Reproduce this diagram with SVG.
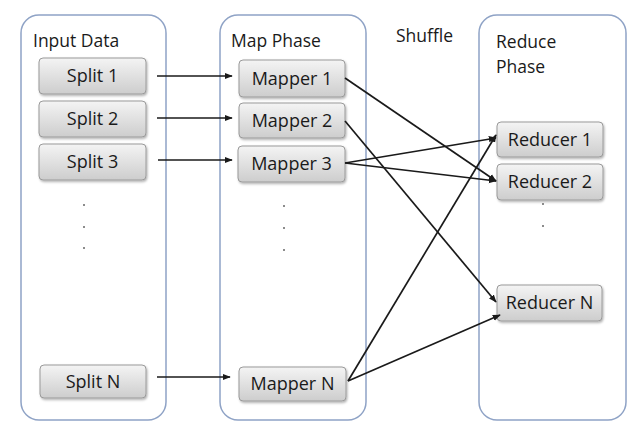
<svg xmlns="http://www.w3.org/2000/svg" width="640" height="431" viewBox="0 0 640 431">
<defs>
<linearGradient id="g" x1="0" y1="0" x2="0" y2="1">
<stop offset="0" stop-color="#f4f4f4"/>
<stop offset="1" stop-color="#cdcdcd"/>
</linearGradient>
<filter id="sh" x="-10%" y="-10%" width="130%" height="140%">
<feDropShadow dx="1" dy="1.5" stdDeviation="1" flood-color="#000" flood-opacity="0.3"/>
</filter>
<marker id="ah" viewBox="0 0 10 10" refX="9" refY="5" markerWidth="8" markerHeight="8" markerUnits="userSpaceOnUse" orient="auto">
<path d="M0,1 L10,5 L0,9 z" fill="#1a1a1a"/>
</marker>
</defs>
<style>
.panel{fill:#fff;stroke:#8fa3c6;stroke-width:1.5}
.box{fill:url(#g);stroke:#9a9a9a;stroke-width:1;filter:url(#sh)}
.t{font-family:"Open Sans","Liberation Sans",sans-serif;font-size:17.5px;fill:#1a1a1a}
.bt{font-family:"Open Sans","Liberation Sans",sans-serif;font-size:18px;fill:#1a1a1a;text-anchor:middle}
.dot{fill:#666}
.c{stroke:#1a1a1a;stroke-width:1.7;fill:none;marker-end:url(#ah)}
</style>
<rect width="640" height="431" fill="#fff"/>
<g id="input-data">
<rect class="panel" x="21" y="15" width="145" height="405" rx="18"/>
<text class="t" x="33" y="47">Input Data</text>
</g>
<g id="map-phase">
<rect class="panel" x="220" y="15" width="146" height="405" rx="18"/>
<text class="t" x="231" y="47">Map Phase</text>
</g>
<g id="shuffle">
<text class="t" x="396" y="42">Shuffle</text>
</g>
<g id="reduce-phase">
<rect class="panel" x="479" y="15" width="147" height="405" rx="18"/>
<text class="t" x="496" y="48">Reduce</text>
<text class="t" x="496" y="73">Phase</text>
</g>
<g id="split1"><rect class="box" x="39" y="58" width="107" height="36" rx="4"/><text class="bt" x="92.5" y="82">Split 1</text></g>
<g id="split2"><rect class="box" x="39" y="101" width="107" height="36" rx="4"/><text class="bt" x="92.5" y="125">Split 2</text></g>
<g id="split3"><rect class="box" x="39" y="144" width="107" height="36" rx="4"/><text class="bt" x="92.5" y="168">Split 3</text></g>
<g id="splitN"><rect class="box" x="40" y="365" width="106" height="33" rx="4"/><text class="bt" x="93" y="388">Split N</text></g>
<g id="mapper1"><rect class="box" x="239" y="60" width="106" height="37" rx="4"/><text class="bt" x="292" y="85">Mapper 1</text></g>
<g id="mapper2"><rect class="box" x="239" y="103" width="106" height="35" rx="4"/><text class="bt" x="292" y="127">Mapper 2</text></g>
<g id="mapper3"><rect class="box" x="238" y="146" width="107" height="36" rx="4"/><text class="bt" x="291.5" y="170">Mapper 3</text></g>
<g id="mapperN"><rect class="box" x="239" y="367" width="107" height="34" rx="4"/><text class="bt" x="292.5" y="390">Mapper N</text></g>
<g id="reducer1"><rect class="box" x="497" y="122" width="106" height="35" rx="4"/><text class="bt" x="550" y="146">Reducer 1</text></g>
<g id="reducer2"><rect class="box" x="497" y="164" width="106" height="36" rx="4"/><text class="bt" x="550" y="188">Reducer 2</text></g>
<g id="reducerN"><rect class="box" x="497" y="285" width="105" height="36" rx="4"/><text class="bt" x="549.5" y="309">Reducer N</text></g>
<g id="dots">
<circle class="dot" cx="84" cy="205" r="1"/>
<circle class="dot" cx="84" cy="227" r="1"/>
<circle class="dot" cx="84" cy="248" r="1"/>
<circle class="dot" cx="284" cy="206" r="1"/>
<circle class="dot" cx="284" cy="228" r="1"/>
<circle class="dot" cx="284" cy="250" r="1"/>
<circle class="dot" cx="543" cy="204" r="1"/>
<circle class="dot" cx="543" cy="226" r="1"/>
</g>
<g id="connectors">
<line class="c" x1="157" y1="76" x2="232" y2="76"/>
<line class="c" x1="157" y1="118" x2="232" y2="118"/>
<line class="c" x1="158" y1="160" x2="232" y2="160"/>
<line class="c" x1="157" y1="377" x2="230" y2="377"/>
<line class="c" x1="345" y1="78" x2="496" y2="181"/>
<line class="c" x1="345" y1="121" x2="496" y2="302"/>
<line class="c" x1="345" y1="163" x2="496" y2="138"/>
<line class="c" x1="345" y1="163" x2="496" y2="181"/>
<line class="c" x1="348" y1="381" x2="496" y2="135"/>
<line class="c" x1="348" y1="381" x2="500" y2="315"/>
</g>
</svg>
